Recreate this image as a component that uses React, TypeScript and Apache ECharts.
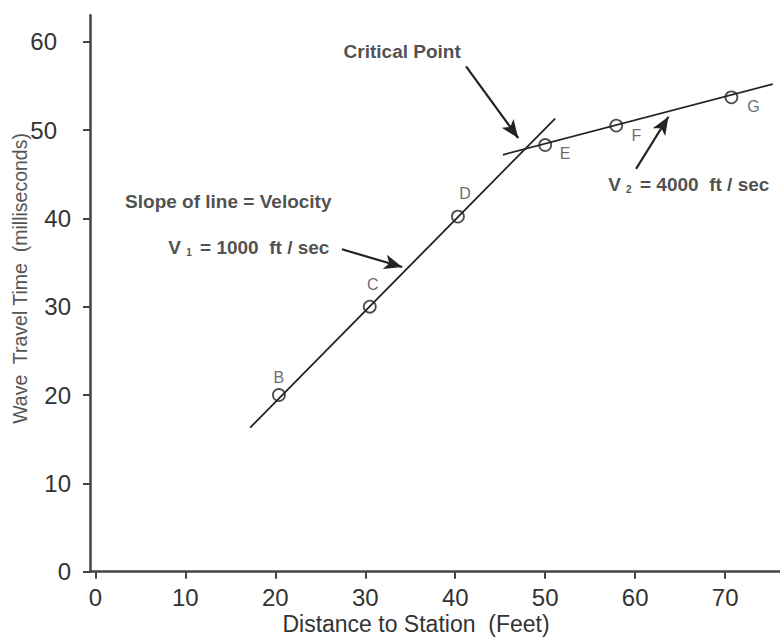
import React, { useEffect, useRef } from 'react';
import * as echarts from 'echarts';

// ---- data ----
const pointNames = ['B', 'C', 'D', 'E', 'F', 'G'];
const distanceFt = [20.4, 30.5, 40.3, 50.0, 57.9, 70.7];
const travelMs = [20.0, 30.0, 40.2, 48.3, 50.5, 53.7];

// fitted lines (V1 direct wave, V2 refracted wave), end points in data units
const v1LineX = [17.2, 51.1];
const v1LineY = [16.3, 51.3];
const v2LineX = [45.3, 75.3];
const v2LineY = [47.2, 55.2];

const xTickValues = [0, 10, 20, 30, 40, 50, 60, 70];
const yTickValues = [0, 10, 20, 30, 40, 50, 60];
// in the reference the two top labels sit further from the axis
const yLabelsNear = [0, 10, 20, 30, 40];
const yLabelsFar = [50, 60];

// ---- styling / annotation layout ----
const FONT = '"Liberation Sans", Arial, Helvetica, sans-serif';
const INK = '#222';
const AXIS = '#444';
const TEXT = '#333';

const letterOffsets = [[0, -18], [3, -22], [7, -23], [20, 8], [20, 10], [22, 9]];

const arrowFrom = [[41.2, 57.2], [27.4, 36.5], [60.1, 45.6]];
const arrowTo = [[47.0, 49.1], [34.1, 34.5], [63.7, 51.5]];

const noteTexts = [
  '{b|Critical Point}',
  '{b|Slope of line = Velocity}',
  '{b|V }{s|1}{b| = 1000  ft / sec}',
  '{b|V }{s|2}{b| = 4000  ft / sec}',
];
const noteAt = [[34.1, 58.9], [3.3, 41.9], [8.1, 36.7], [57.0, 43.8]];
const notePos = ['inside', 'right', 'right', 'right'];

export default function App() {
  const ref = useRef<HTMLDivElement>(null);

  useEffect(() => {
    if (!ref.current) return;
    const chart = echarts.init(ref.current, undefined, { renderer: 'svg' });

    const yLabelStyle = { fontSize: 24, color: TEXT, fontFamily: FONT };

    const option: any = {
      animation: false,
      backgroundColor: '#fff',
      grid: { left: 90, right: 0, top: 15.2, bottom: 66.3, containLabel: false, outerBoundsMode: 'none' },
      xAxis: {
        type: 'value',
        min: -0.6,
        max: 76.1,
        name: 'Distance to Station  (Feet)',
        nameLocation: 'middle',
        nameGap: 41,
        nameMoveOverlap: false,
        nameTextStyle: { fontFamily: FONT, fontSize: 23, color: TEXT, padding: [0, 38, 0, 0] },
        splitLine: { show: false },
        axisLine: { show: true, onZero: false, lineStyle: { color: AXIS, width: 2.5 } },
        axisTick: { show: true, inside: false, length: 7, customValues: xTickValues, lineStyle: { color: AXIS, width: 2 } },
        axisLabel: { customValues: xTickValues, margin: 14, fontSize: 24, color: TEXT, fontFamily: FONT },
      },
      yAxis: [
        {
          type: 'value',
          min: 0,
          max: 63,
          name: 'Wave  Travel Time  (milliseconds)',
          nameLocation: 'middle',
          nameGap: 60,
          nameMoveOverlap: false,
          nameTextStyle: { fontFamily: FONT, fontSize: 19.5, color: '#555', padding: [0, 0, 0, 30] },
          splitLine: { show: false },
          axisLine: { show: true, onZero: false, lineStyle: { color: AXIS, width: 2.5 } },
          axisTick: { show: true, inside: false, length: 7, customValues: yTickValues, lineStyle: { color: AXIS, width: 2 } },
          axisLabel: { customValues: yLabelsNear, margin: 19, ...yLabelStyle },
        },
        {
          type: 'value',
          min: 0,
          max: 63,
          position: 'left',
          offset: 0,
          splitLine: { show: false },
          axisLine: { show: false },
          axisTick: { show: false },
          axisLabel: { customValues: yLabelsFar, margin: 33, ...yLabelStyle },
        },
      ],
      series: [
        {
          type: 'line',
          data: v1LineX.map((x, i) => [x, v1LineY[i]]),
          symbol: 'none',
          silent: true,
          lineStyle: { color: INK, width: 1.8 },
          z: 2,
        },
        {
          type: 'line',
          data: v2LineX.map((x, i) => [x, v2LineY[i]]),
          symbol: 'none',
          silent: true,
          lineStyle: { color: INK, width: 1.8 },
          z: 2,
        },
        {
          type: 'scatter',
          silent: true,
          symbol: 'circle',
          symbolSize: 12,
          itemStyle: { color: 'rgba(0,0,0,0)', borderColor: INK, borderWidth: 1.8 },
          label: { show: true, position: 'inside', formatter: '{b}', fontSize: 16, color: '#444', fontFamily: FONT },
          data: distanceFt.map((x, i) => ({
            name: pointNames[i],
            value: [x, travelMs[i]],
            label: { offset: letterOffsets[i] },
          })),
          z: 3,
        },
        {
          type: 'scatter',
          silent: true,
          symbolSize: 0,
          itemStyle: { color: 'rgba(0,0,0,0)' },
          label: {
            show: true,
            distance: 0,
            color: INK,
            fontFamily: FONT,
            rich: {
              b: { fontSize: 19, fontWeight: 'bold', color: INK, fontFamily: FONT },
              s: { fontSize: 10, fontWeight: 'bold', color: INK, fontFamily: FONT, verticalAlign: 'bottom', padding: [8, 3, 0, 0] },
            },
          },
          data: noteAt.map((p, i) => ({
            value: p,
            label: { formatter: noteTexts[i], position: notePos[i] },
          })),
          markLine: {
            silent: true,
            symbol: ['none', 'arrow'],
            symbolSize: [0, 14],
            label: { show: false },
            emphasis: { disabled: true },
            lineStyle: { color: INK, width: 2.2, type: 'solid' },
            data: arrowFrom.map((f, i) => [
              { coord: f },
              { coord: arrowTo[i], symbolSize: [11, 18] },
            ]),
          },
          z: 4,
        },
      ],
    };

    chart.setOption(option);
    return () => chart.dispose();
  }, []);

  return (
    <div
      ref={ref}
      style={{ position: 'fixed', left: 0, top: 0, width: 780, height: 638, background: '#fff' }}
    />
  );
}
